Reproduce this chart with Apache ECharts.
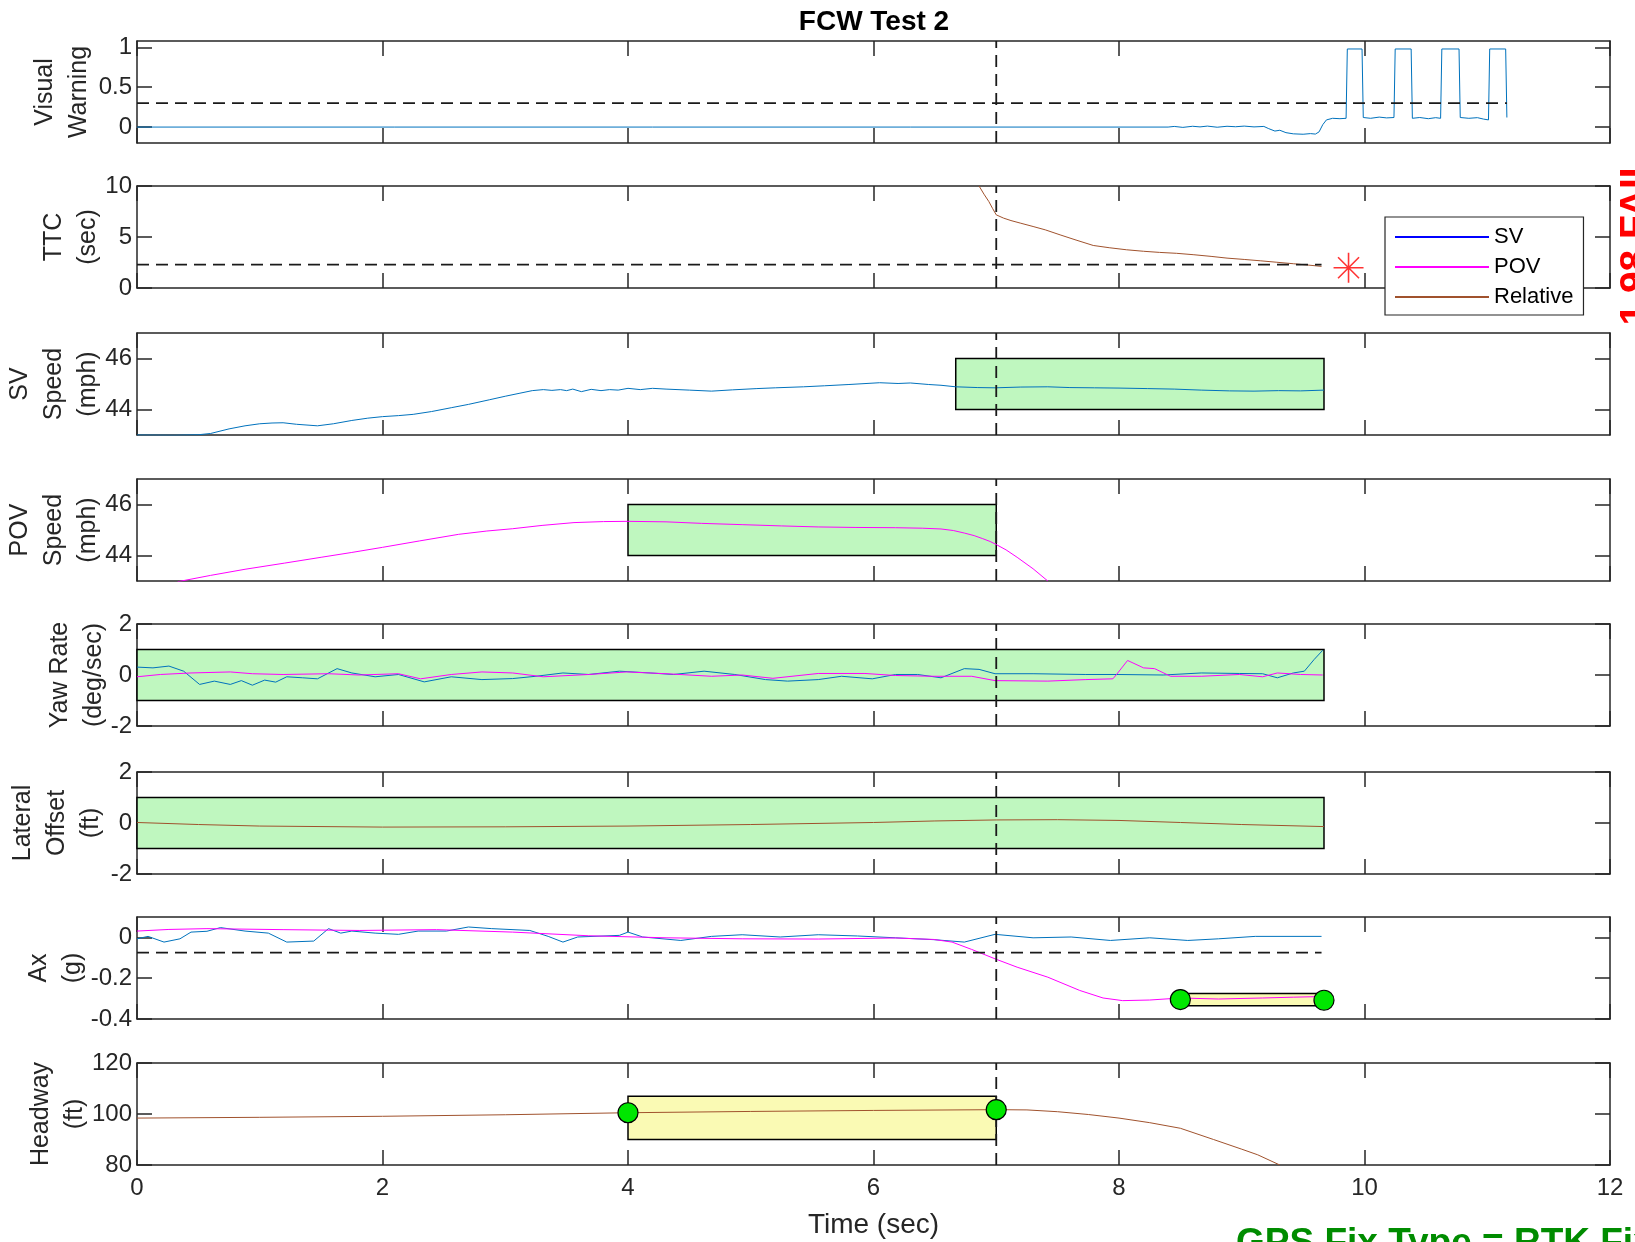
<!DOCTYPE html>
<html>
<head>
<meta charset="utf-8">
<title>FCW Test 2</title>
<script src="https://cdn.jsdelivr.net/npm/echarts@6/dist/echarts.min.js"></script>
<style>
  html, body { margin: 0; padding: 0; background: #fff; }
  #chart { width: 1635px; height: 1242px; }
</style>
</head>
<body>
<div id="chart"></div>
<script>
// values, time in sec
var visualWarning = [[0,0],[8.40,0],[8.45,0.008],[8.52,-0.004],[8.6,0.01],[8.66,0.002],[8.72,0.012],[8.8,-0.002],[8.88,0.01],[8.95,0.004],[9.02,0.012],[9.1,0.002],[9.18,0.008],[9.22,-0.02],[9.27,-0.05],[9.31,-0.04],[9.36,-0.07],[9.42,-0.085],[9.5,-0.09],[9.56,-0.082],[9.6,-0.088],[9.63,-0.06],[9.66,0.03],[9.69,0.09],[9.74,0.11],[9.8,0.105],[9.85,0.11],[9.86,0.98],[9.98,0.98],[9.99,0.12],[10.05,0.11],[10.12,0.125],[10.18,0.115],[10.24,0.12],[10.25,0.98],[10.38,0.98],[10.39,0.11],[10.45,0.12],[10.52,0.105],[10.58,0.118],[10.62,0.11],[10.63,0.98],[10.77,0.98],[10.78,0.12],[10.85,0.11],[10.92,0.118],[10.97,0.1],[11.01,0.09],[11.02,0.98],[11.15,0.98],[11.16,0.12]];
var warningThreshold = [[0,0.3],[11.16,0.3]];

var ttcRelative = [[6.86,10],[6.9,9.2],[6.94,8.47],[6.97,7.8],[7.0,7.17],[7.06,6.85],[7.12,6.61],[7.2,6.35],[7.3,6.03],[7.4,5.7],[7.52,5.21],[7.65,4.7],[7.79,4.17],[7.92,3.95],[8.06,3.75],[8.2,3.6],[8.33,3.49],[8.47,3.4],[8.61,3.26],[8.75,3.1],[8.88,2.93],[9.02,2.8],[9.15,2.67],[9.28,2.53],[9.42,2.38],[9.54,2.25],[9.65,2.12]];
var ttcThreshold = [[0,2.3],[9.65,2.3]];
var ttcAtWarning = [[9.87,1.98]];

var svSpeed = [[0,43.0],[0.3,42.99],[0.5,43.01],[0.6,43.06],[0.75,43.24],[0.88,43.36],[1.0,43.44],[1.1,43.47],[1.19,43.48],[1.3,43.42],[1.47,43.36],[1.6,43.44],[1.75,43.57],[1.88,43.66],[2.0,43.72],[2.13,43.76],[2.25,43.81],[2.4,43.92],[2.56,44.07],[2.7,44.2],[2.87,44.38],[3.0,44.52],[3.12,44.64],[3.22,44.74],[3.31,44.78],[3.38,44.75],[3.45,44.78],[3.5,44.74],[3.55,44.8],[3.62,44.7],[3.7,44.79],[3.78,44.74],[3.85,44.78],[3.92,44.76],[4.0,44.83],[4.1,44.78],[4.2,44.83],[4.31,44.8],[4.5,44.76],[4.68,44.72],[4.85,44.77],[5.05,44.82],[5.2,44.85],[5.43,44.89],[5.6,44.93],[5.8,44.98],[6.05,45.05],[6.2,45.02],[6.3,45.04],[6.45,44.98],[6.55,44.95],[6.67,44.89],[6.85,44.86],[6.99,44.85],[7.2,44.88],[7.42,44.89],[7.6,44.86],[7.8,44.85],[8.0,44.84],[8.23,44.82],[8.45,44.8],[8.67,44.76],[8.9,44.73],[9.1,44.72],[9.3,44.74],[9.48,44.73],[9.67,44.76]];
var svSpeedBox = [6.67, 9.67, 44, 46];

var povSpeed = [[0.33,42.97],[0.6,43.22],[0.88,43.46],[1.2,43.7],[1.5,43.93],[1.75,44.12],[2.0,44.32],[2.3,44.57],[2.62,44.83],[2.85,44.96],[3.06,45.05],[3.3,45.18],[3.56,45.29],[3.8,45.33],[4.0,45.34],[4.31,45.32],[4.6,45.26],[4.93,45.21],[5.25,45.16],[5.55,45.12],[5.85,45.1],[6.18,45.09],[6.4,45.07],[6.55,45.04],[6.65,44.98],[6.74,44.88],[6.82,44.78],[6.89,44.66],[6.95,44.55],[7.0,44.43],[7.08,44.22],[7.17,43.93],[7.3,43.48],[7.42,43.0]];
var povSpeedBox = [4, 7, 44, 46];

var yawSV = [[0,0.31],[0.13,0.28],[0.26,0.35],[0.38,0.15],[0.51,-0.37],[0.63,-0.24],[0.76,-0.37],[0.85,-0.22],[0.94,-0.4],[1.04,-0.2],[1.13,-0.28],[1.22,-0.07],[1.35,-0.11],[1.47,-0.15],[1.63,0.25],[1.75,0.08],[1.94,-0.07],[2.13,0.02],[2.34,-0.27],[2.56,-0.07],[2.81,-0.18],[3.06,-0.14],[3.25,-0.05],[3.47,0.08],[3.68,0.02],[3.93,0.15],[4.18,0.08],[4.37,0.02],[4.62,0.15],[4.87,0.02],[5.12,-0.18],[5.3,-0.24],[5.55,-0.18],[5.74,-0.05],[5.99,-0.15],[6.18,0.02],[6.36,0.02],[6.55,-0.11],[6.74,0.25],[6.86,0.22],[6.99,0.05],[7.3,0.05],[7.73,0.02],[7.98,0.02],[8.36,0],[8.67,0.08],[8.98,0.06],[9.17,0.05],[9.29,-0.11],[9.42,0.08],[9.51,0.15],[9.59,0.61],[9.66,0.97]];
var yawPOV = [[0,-0.07],[0.19,0.02],[0.44,0.08],[0.76,0.12],[0.94,0.05],[1.19,0.02],[1.56,0.05],[1.81,0],[2.13,0.05],[2.31,-0.15],[2.56,0.02],[2.81,0.12],[3.06,0.08],[3.31,-0.07],[3.68,0.02],[3.99,0.12],[4.31,0.05],[4.68,-0.05],[4.93,0],[5.18,-0.13],[5.55,0.06],[5.93,0.06],[6.18,-0.02],[6.49,-0.05],[6.8,-0.05],[6.99,-0.22],[7.42,-0.24],[7.73,-0.18],[7.95,-0.15],[7.98,0.02],[8.07,0.57],[8.2,0.28],[8.29,0.25],[8.42,-0.05],[8.67,-0.05],[8.98,0.02],[9.17,-0.07],[9.29,0.08],[9.48,0.02],[9.66,0]];
var yawBox = [0, 9.67, -1, 1];

var lateralOffset = [[0,0.02],[0.5,-0.06],[1.0,-0.12],[2,-0.16],[3,-0.15],[4,-0.12],[5,-0.06],[6,0.02],[6.5,0.08],[7,0.12],[7.5,0.13],[8,0.1],[8.5,0.02],[9,-0.06],[9.67,-0.14]];
var lateralBox = [0, 9.67, -1, 1];

var axSV = [[0,-0.007],[0.09,0.005],[0.22,-0.023],[0.35,-0.007],[0.44,0.026],[0.57,0.03],[0.68,0.048],[0.88,0.031],[1.07,0.021],[1.22,-0.023],[1.44,-0.018],[1.56,0.043],[1.66,0.021],[1.75,0.031],[1.94,0.021],[2.13,0.015],[2.29,0.031],[2.52,0.031],[2.7,0.051],[2.89,0.043],[3.2,0.034],[3.35,0.005],[3.47,-0.023],[3.59,0.002],[3.93,0.01],[4.0,0.026],[4.12,0.002],[4.43,-0.015],[4.68,0.005],[4.93,0.013],[5.24,0.002],[5.55,0.013],[5.87,0.007],[6.18,-0.002],[6.49,-0.011],[6.74,-0.023],[6.99,0.015],[7.3,-0.002],[7.61,0.002],[7.93,-0.015],[8.25,-0.002],[8.56,-0.015],[8.81,-0.007],[9.11,0.005],[9.65,0.005]];
var axPOV = [[0,0.031],[0.26,0.039],[0.57,0.043],[1.19,0.038],[1.81,0.034],[2.44,0.038],[3.06,0.026],[3.68,0.008],[4.31,-0.002],[4.93,-0.007],[5.55,-0.008],[6.18,-0.003],[6.49,-0.01],[6.64,-0.023],[6.8,-0.059],[6.99,-0.105],[7.17,-0.146],[7.42,-0.195],[7.68,-0.26],[7.87,-0.297],[8.03,-0.31],[8.25,-0.307],[8.5,-0.297],[8.81,-0.302],[9.17,-0.297],[9.42,-0.293],[9.65,-0.29]];
var axThreshold = [[0,-0.075],[9.65,-0.075]];
var axBox = [8.5, 9.67, -0.335, -0.275];
var axMarkers = [[8.5,-0.305],[9.67,-0.308]];

var headway = [[0,98.4],[1,98.7],[2,99.1],[3,99.7],[4,100.5],[5,101.0],[6,101.4],[7,101.7],[7.25,101.6],[7.5,100.9],[7.75,99.8],[8.0,98.4],[8.25,96.6],[8.5,94.4],[8.77,90],[9.0,86.2],[9.13,84],[9.31,80]];
var headwayBox = [4, 7, 90, 107];
var headwayMarkers = [[4,100.5],[7,101.7]];

var eventTime = 7;

// panel layout
var FONT = '"Liberation Sans", Arial, Helvetica, sans-serif';
var AXIS = '#262626';
var SV_COLOR = '#0072bd';
var POV_COLOR = '#ff00ff';
var REL_COLOR = '#a0522d';
var GREEN_BOX = '#bff7bf';
var YELLOW_BOX = '#fafab4';

var panels = [
  { name: 'Visual\nWarning', min: -0.2, max: 1.08, ticks: [0, 0.5, 1], gap: 41 },
  { name: 'TTC\n(sec)', min: 0, max: 10, ticks: [0, 5, 10], gap: 32 },
  { name: 'SV\nSpeed\n(mph)', min: 43, max: 47, ticks: [44, 46], gap: 32 },
  { name: 'POV\nSpeed\n(mph)', min: 43, max: 47, ticks: [44, 46], gap: 32 },
  { name: 'Yaw Rate\n(deg/sec)', min: -2, max: 2, ticks: [-2, 0, 2], gap: 26 },
  { name: 'Lateral\nOffset\n(ft)', min: -2, max: 2, ticks: [-2, 0, 2], gap: 29 },
  { name: 'Ax\n(g)', min: -0.4, max: 0.1, ticks: [-0.4, -0.2, 0], gap: 47 },
  { name: 'Headway\n(ft)', min: 80, max: 120, ticks: [80, 100, 120], gap: 45 }
];
var gridTops = [41, 186, 333, 479, 624, 772, 917, 1063];

var chart = echarts.init(document.getElementById('chart'));

var grid = [], xAxis = [], yAxis = [], series = [];
var lineStyleAxis = { color: AXIS, width: 1.5 };

panels.forEach(function (p, i) {
  var last = i === panels.length - 1;
  grid.push({ left: 137, right: 25, top: gridTops[i], height: 102, outerBoundsMode: 'none' });
  xAxis.push({
    type: 'value', gridIndex: i, position: 'bottom', min: 0, max: 12, interval: 2,
    axisLine: { show: true, onZero: false, lineStyle: lineStyleAxis },
    axisTick: { show: true, inside: true, length: 15, lineStyle: lineStyleAxis },
    axisLabel: { show: last, color: AXIS, fontSize: 24, fontFamily: FONT, margin: 11 },
    splitLine: { show: false },
    name: last ? 'Time (sec)' : '', nameLocation: 'middle', nameGap: 46, nameMoveOverlap: false,
    nameTextStyle: { color: AXIS, fontSize: 28, fontFamily: FONT }
  });
  xAxis.push({
    type: 'value', gridIndex: i, position: 'top', min: 0, max: 12, interval: 2,
    axisLine: { show: true, onZero: false, lineStyle: lineStyleAxis },
    axisTick: { show: true, inside: true, length: 15, lineStyle: lineStyleAxis },
    axisLabel: { show: false }, splitLine: { show: false }
  });
  yAxis.push({
    type: 'value', gridIndex: i, position: 'left', min: p.min, max: p.max,
    axisLine: { show: true, onZero: false, lineStyle: lineStyleAxis },
    axisTick: { show: true, inside: true, length: 15, lineStyle: lineStyleAxis, customValues: p.ticks },
    axisLabel: { show: true, customValues: p.ticks, color: AXIS, fontSize: 24, fontFamily: FONT, margin: 5 },
    splitLine: { show: false },
    name: p.name, nameLocation: 'middle', nameGap: p.gap, nameMoveOverlap: false,
    nameTextStyle: { color: AXIS, fontSize: 25, lineHeight: 34, fontFamily: FONT }
  });
  yAxis.push({
    type: 'value', gridIndex: i, position: 'right', min: p.min, max: p.max,
    axisLine: { show: true, onZero: false, lineStyle: lineStyleAxis },
    axisTick: { show: true, inside: true, length: 15, lineStyle: lineStyleAxis, customValues: p.ticks },
    axisLabel: { show: false }, splitLine: { show: false }
  });
  // vertical event line at 7 s
  series.push(dashed(i, [[eventTime, p.min], [eventTime, p.max]]));
});

function line(i, data, color, name) {
  return {
    type: 'line', name: name, xAxisIndex: 2 * i, yAxisIndex: 2 * i, data: data,
    symbol: 'none', showSymbol: false, silent: true, z: 3,
    lineStyle: { color: color, width: 1 }, itemStyle: { color: color }
  };
}
function dashed(i, data) {
  return {
    type: 'line', xAxisIndex: 2 * i, yAxisIndex: 2 * i, data: data,
    symbol: 'none', silent: true, z: 4,
    lineStyle: { color: '#1a1a1a', width: 1.8, type: [12, 7] }
  };
}
function box(i, rect, fill) {
  return {
    type: 'custom', xAxisIndex: 2 * i, yAxisIndex: 2 * i, data: [rect], silent: true, z: 2,
    renderItem: function (params, api) {
      var a = api.coord([api.value(0), api.value(3)]);
      var b = api.coord([api.value(1), api.value(2)]);
      return { type: 'rect', shape: { x: a[0], y: a[1], width: b[0] - a[0], height: b[1] - a[1] },
        style: { fill: fill, stroke: '#000', lineWidth: 1.5 } };
    }
  };
}
function markers(i, data) {
  return {
    type: 'scatter', xAxisIndex: 2 * i, yAxisIndex: 2 * i, data: data, silent: true, z: 6,
    symbol: 'circle', symbolSize: 20,
    itemStyle: { color: '#00e600', borderColor: '#000', borderWidth: 1.2, opacity: 1 }
  };
}

// 0 visual warning
series.push(line(0, visualWarning, SV_COLOR));
series.push(dashed(0, warningThreshold));
// 1 TTC
series.push(line(1, [], '#0000ff', 'SV'));
series.push(line(1, [], POV_COLOR, 'POV'));
series.push(line(1, ttcRelative, REL_COLOR, 'Relative'));
series.push(dashed(1, ttcThreshold));
series.push({
  type: 'scatter', xAxisIndex: 2, yAxisIndex: 2, data: ttcAtWarning, silent: true, z: 6,
  symbol: 'path://M10,0L10,20M0,10L20,10M3,3L17,17M3,17L17,3', symbolSize: 30,
  itemStyle: { color: 'rgba(0,0,0,0)', borderColor: '#ff0000', borderWidth: 1.6 }
});
// 2 SV speed
series.push(box(2, svSpeedBox, GREEN_BOX));
series.push(line(2, svSpeed, SV_COLOR));
// 3 POV speed
series.push(box(3, povSpeedBox, GREEN_BOX));
series.push(line(3, povSpeed, POV_COLOR));
// 4 yaw rate
series.push(box(4, yawBox, GREEN_BOX));
series.push(line(4, yawSV, SV_COLOR));
series.push(line(4, yawPOV, POV_COLOR));
// 5 lateral offset
series.push(box(5, lateralBox, GREEN_BOX));
series.push(line(5, lateralOffset, REL_COLOR));
// 6 Ax
series.push(line(6, axSV, SV_COLOR));
series.push(line(6, axPOV, POV_COLOR));
series.push(dashed(6, axThreshold));
series.push(box(6, axBox, YELLOW_BOX));
series.push(markers(6, axMarkers));
// 7 headway
series.push(box(7, headwayBox, YELLOW_BOX));
series.push(line(7, headway, REL_COLOR));
series.push(markers(7, headwayMarkers));

var option = {
  animation: false,
  backgroundColor: '#ffffff',
  textStyle: { fontFamily: FONT },
  title: {
    text: 'FCW Test 2', left: 874, top: 8, textAlign: 'center', padding: 0,
    textStyle: { fontSize: 28, fontWeight: 'bold', color: '#000', fontFamily: FONT }
  },
  legend: {
    data: ['SV', 'POV', 'Relative'], orient: 'vertical', left: 1385, top: 217,
    icon: 'rect', itemWidth: 94, itemHeight: 2, itemGap: 8, selectedMode: false,
    backgroundColor: '#fff', borderColor: AXIS, borderWidth: 1.2, padding: [9, 10, 7, 10],
    textStyle: { color: '#000', fontSize: 22, lineHeight: 22, fontFamily: FONT }
  },
  grid: grid, xAxis: xAxis, yAxis: yAxis, series: series,
  graphic: [
    { type: 'text', x: 1636, y: 240, rotation: Math.PI / 2, silent: true,
      style: { text: '1.98 FAIL', fill: '#ff0000', font: 'bold 39px ' + FONT, align: 'center', verticalAlign: 'middle' } },
    { type: 'text', x: 1236, y: 1244, silent: true,
      style: { text: 'GPS Fix Type = RTK Fixed', fill: '#008c00', font: 'bold 37px ' + FONT, align: 'left', verticalAlign: 'middle' } }
  ]
};
chart.setOption(option);
</script>
</body>
</html>
